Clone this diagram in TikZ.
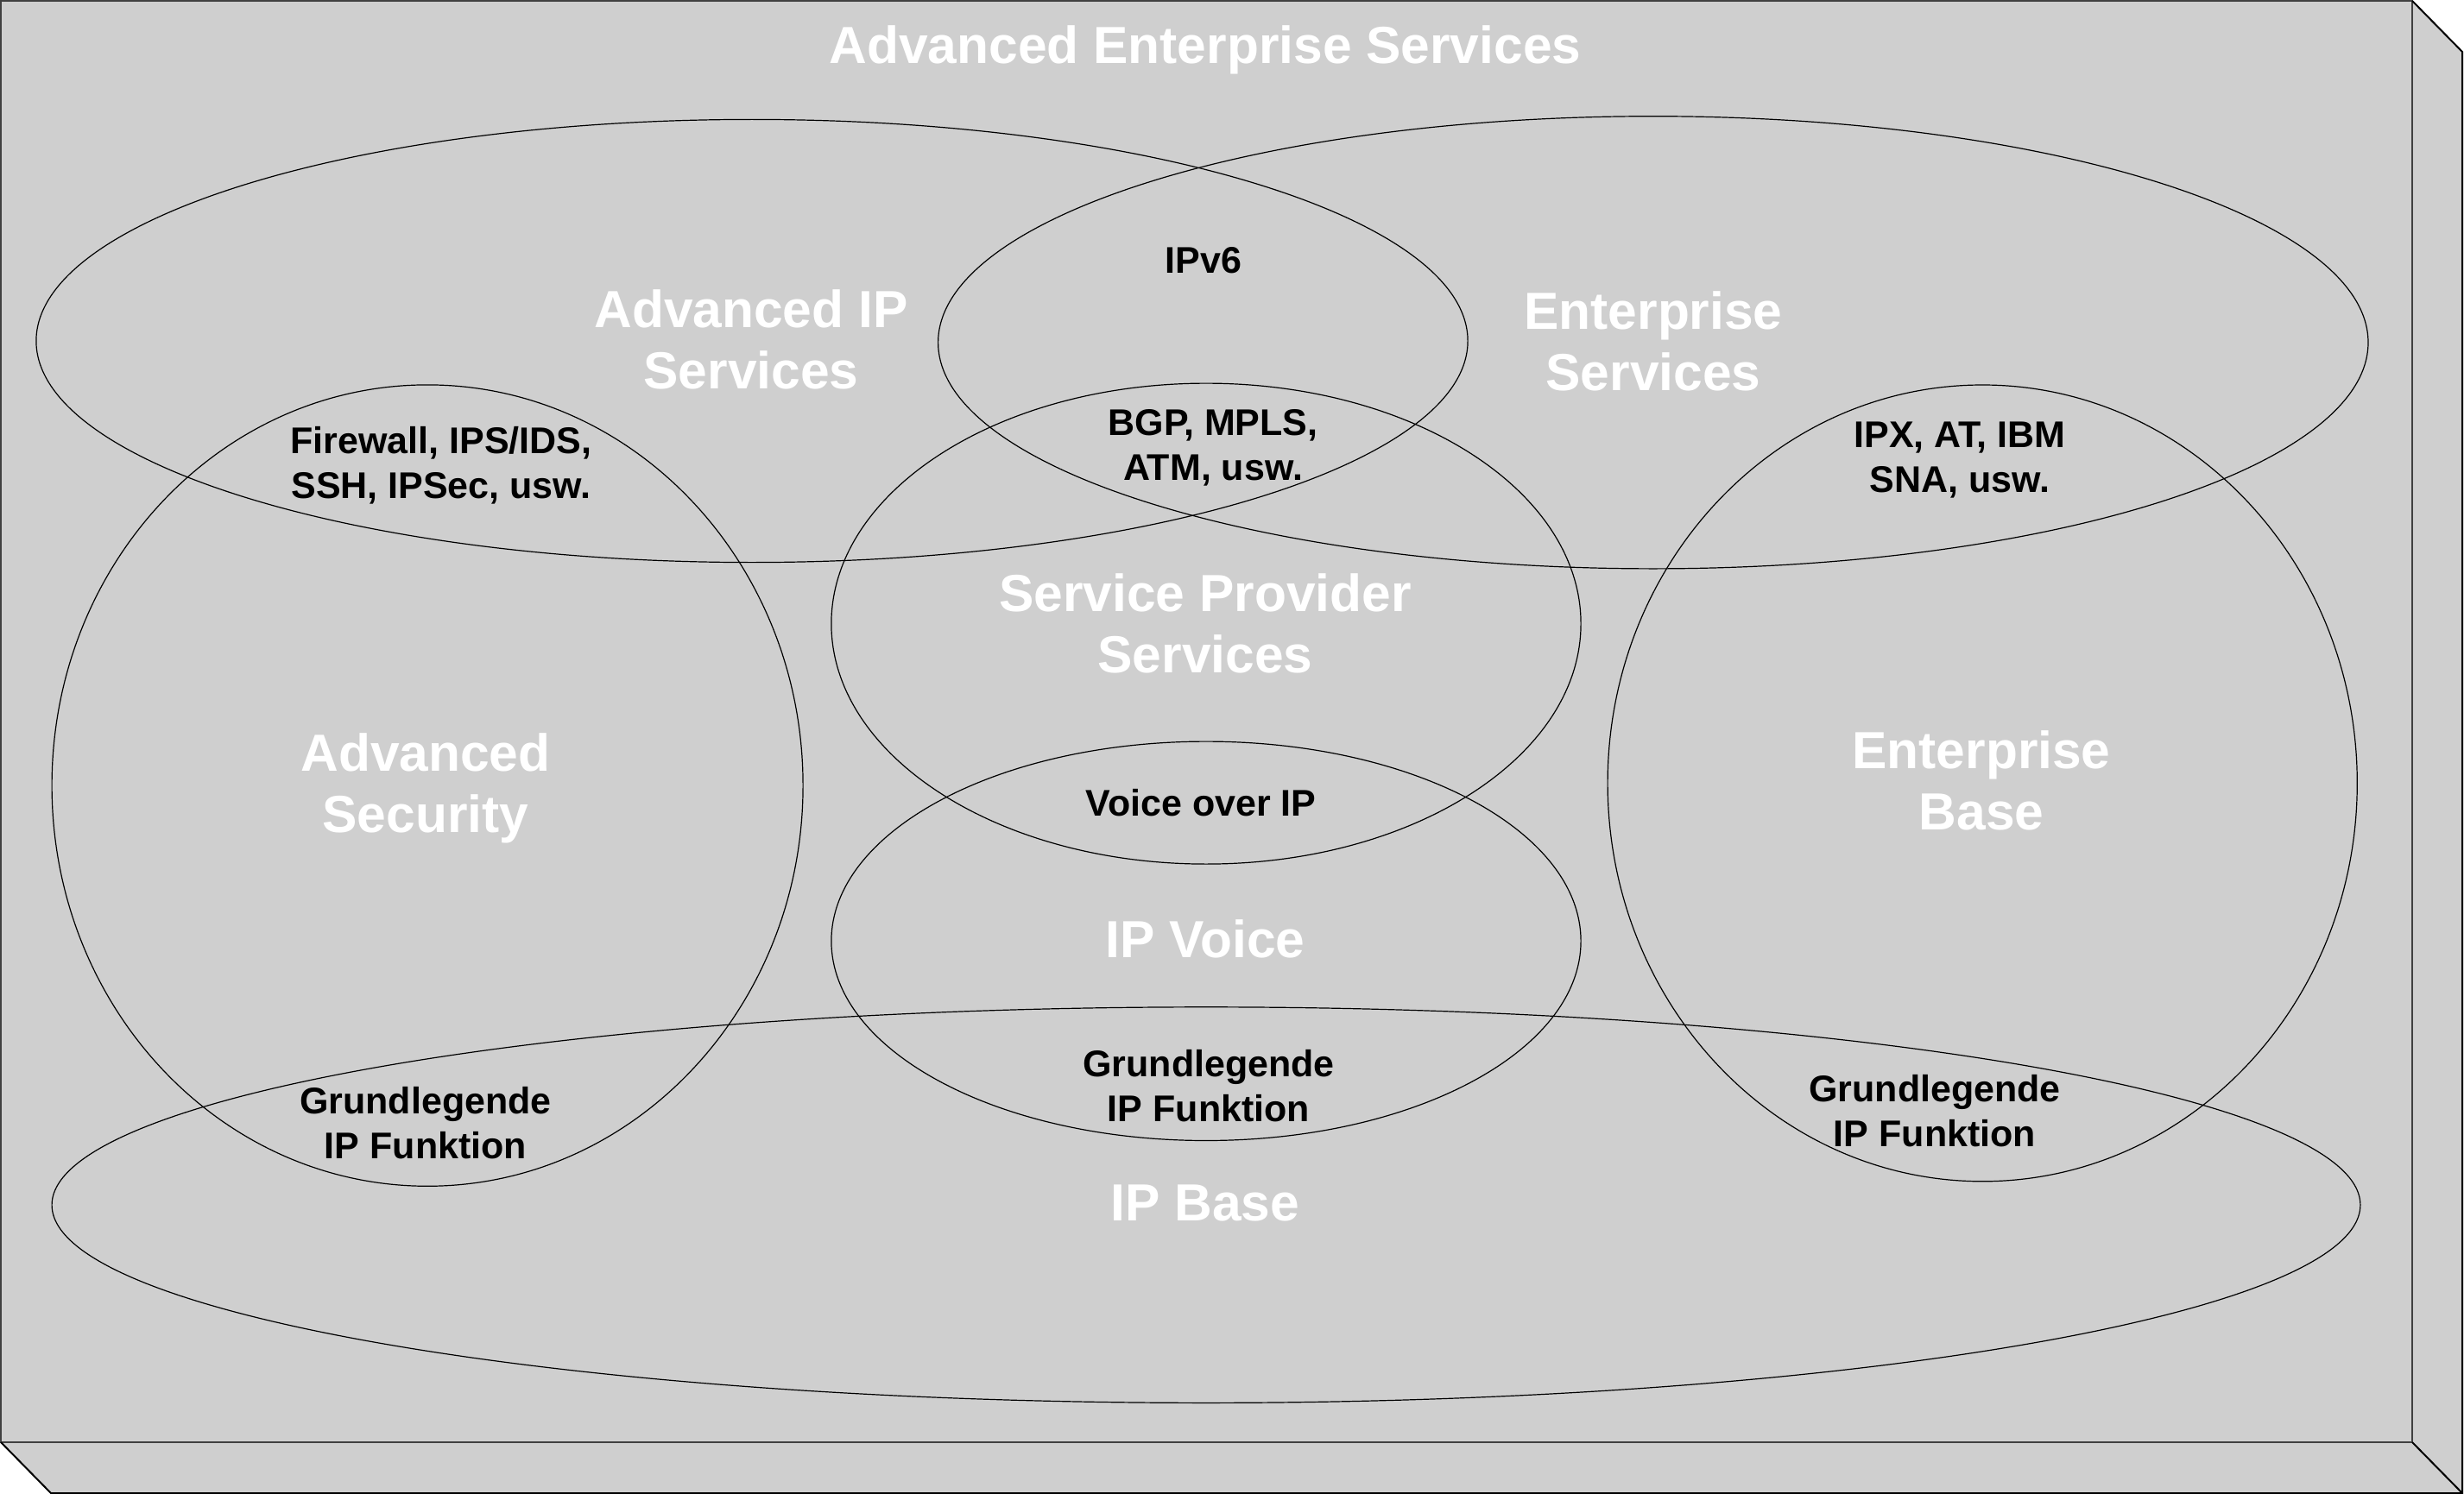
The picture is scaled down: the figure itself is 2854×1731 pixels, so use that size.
\documentclass[tikz,border=0pt]{standalone}
\usepackage{fontspec}
\setmainfont{Liberation Sans}
\definecolor{boxgray}{RGB}{207,207,207}
\begin{document}
\begin{tikzpicture}[x=1pt,y=-1pt,
  big/.style={text=white, font=\fontsize{60.5}{71}\selectfont\bfseries, align=center, inner sep=0pt},
  small/.style={text=black, font=\fontsize{43}{51.6}\selectfont\bfseries, align=center, inner sep=0pt},
  ring/.style={draw=black, line width=1.2pt},
  edge/.style={draw=black, line width=2pt}]
\useasboundingbox (0,0) rectangle (2854,1731);
% 3D box
\fill[boxgray] (0,0) -- (2794,0) -- (2853,60) -- (2853,1731) -- (59,1731) -- (0,1671) -- cycle;
\draw[edge, draw=black!75] (1,1) rectangle (2794,1671);
\draw[edge] (2794,1) -- (2852,60) -- (2852,1730) -- (59,1730) -- (1,1671);
\draw[edge] (2794,1671) -- (2852,1730);
% sets
\draw[ring] (871.0,395.0) ellipse [x radius=829.1pt, y radius=256.6pt];
\draw[ring] (1914.8,396.8) ellipse [x radius=828.2pt, y radius=262.1pt];
\draw[ring] (495.1,910.1) ellipse [x radius=435.0pt, y radius=464.2pt];
\draw[ring] (1397.0,722.6) ellipse [x radius=434.1pt, y radius=278.5pt];
\draw[ring] (1397.0,1090.3) ellipse [x radius=434.1pt, y radius=231.2pt];
\draw[ring] (2296.2,907.4) ellipse [x radius=434.1pt, y radius=461.4pt];
\draw[ring] (1397.0,1396.1) ellipse [x radius=1336.9pt, y radius=229.3pt];
% white labels
\node[big] (title) at (1396,58) {Advanced Enterprise Services};
\node[big] (advip) at (870,393) {Advanced IP\\Services};
\node[big] (entsvc) at (1915,395) {Enterprise\\Services};
\node[big] (sp) at (1396,722) {Service Provider\\Services};
\node[big] (advsec) at (493,913) {Advanced\\Security};
\node[big] (entbase) at (2295,904) {Enterprise\\Base};
\node[big] (ipvoice) at (1396,1088) {IP Voice};
\node[big] (ipbase) at (1396,1394) {IP Base};
% black labels
\node[small] (ipv6) at (1394,302) {IPv6};
\node[small] (bgp) at (1405,519) {BGP, MPLS,\\ATM, usw.};
\node[small] (fw) at (511,539) {Firewall, IPS/IDS,\\SSH, IPSec, usw.};
\node[small] (ipx) at (2270,533) {IPX, AT, IBM\\SNA, usw.};
\node[small] (voip) at (1391,930) {Voice over IP};
\node[small] (g1) at (493,1301) {Grundlegende\\IP Funktion};
\node[small] (g2) at (1400,1258) {Grundlegende\\IP Funktion};
\node[small] (g3) at (2241,1287) {Grundlegende\\IP Funktion};
\end{tikzpicture}
\end{document}
